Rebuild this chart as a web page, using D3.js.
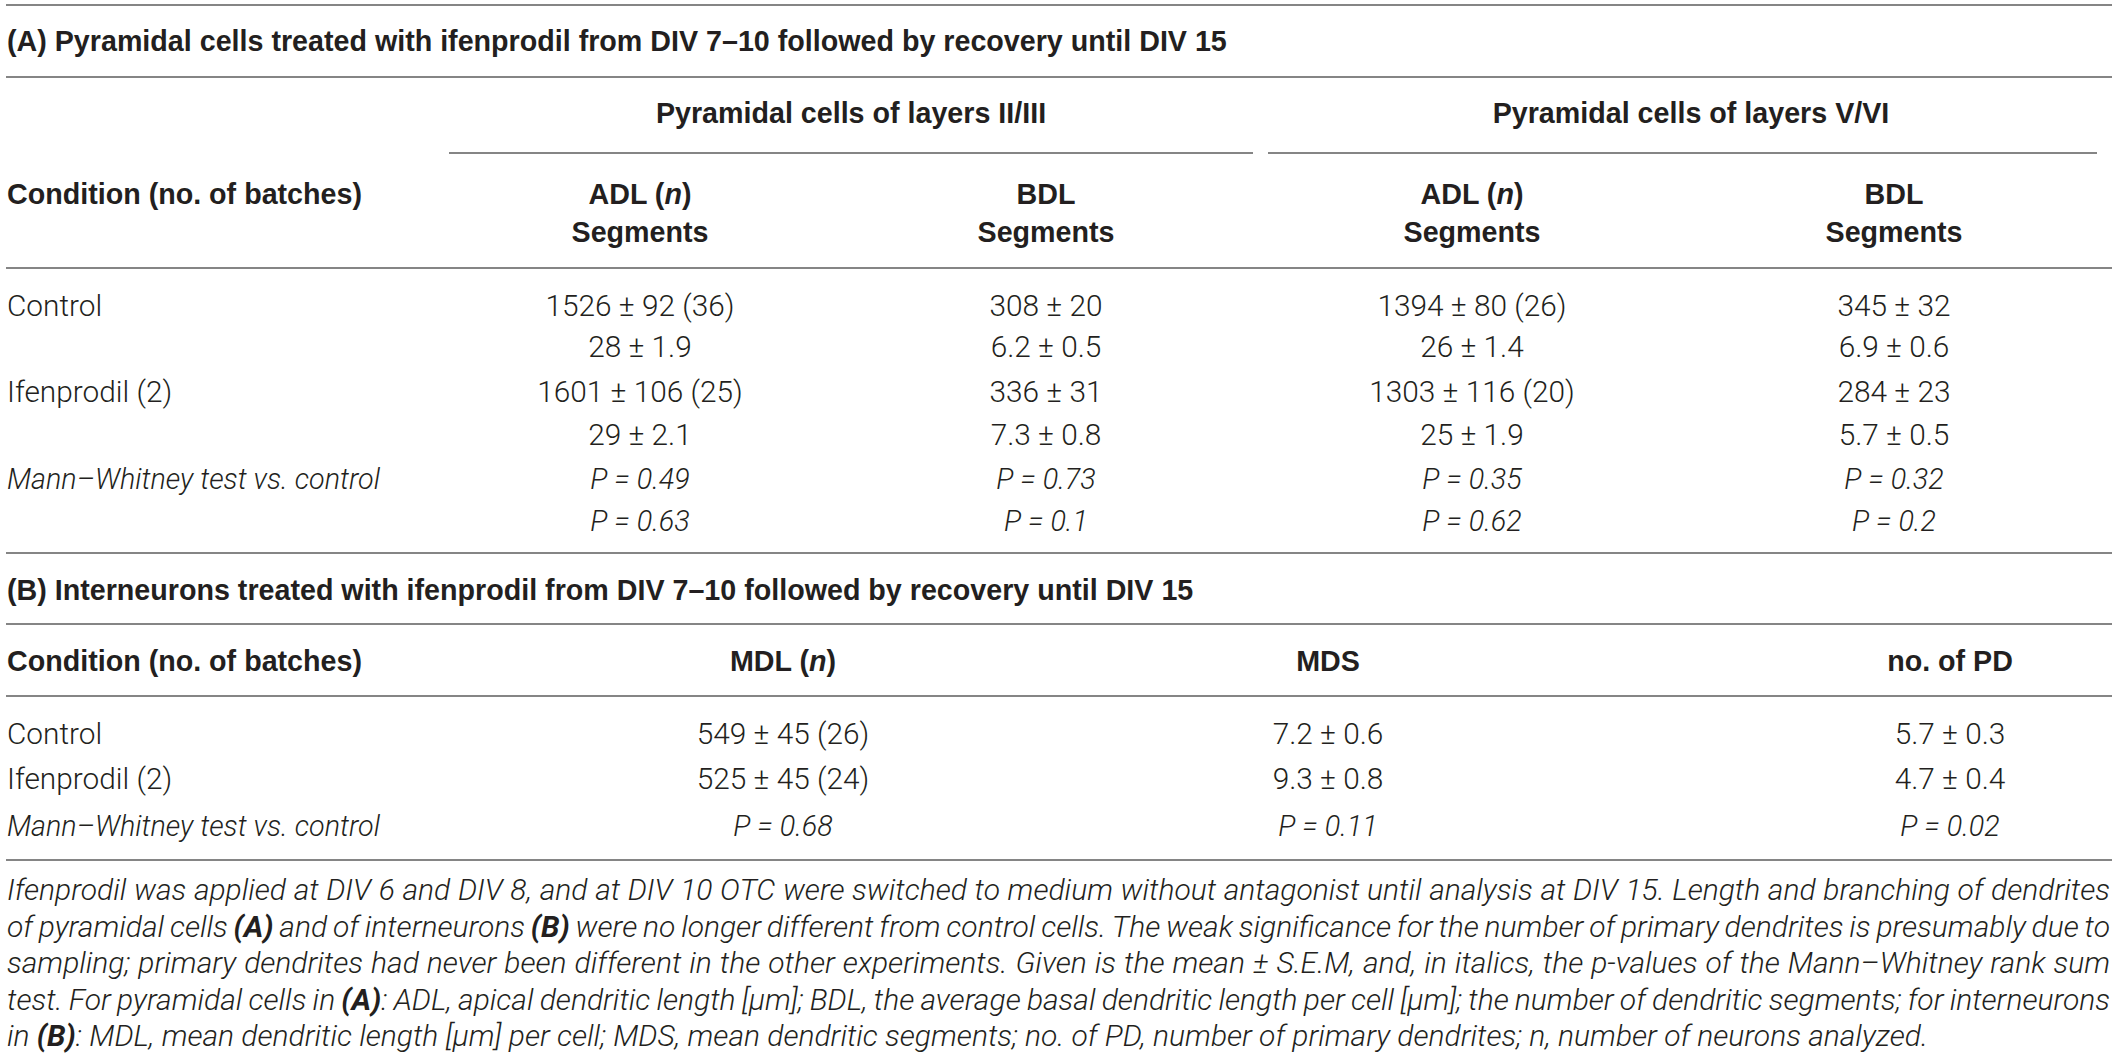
<!DOCTYPE html>
<html><head><meta charset="utf-8">
<script src="https://cdn.jsdelivr.net/npm/d3@7/dist/d3.min.js"></script>
<style>html,body{margin:0;padding:0;background:#fff;overflow:hidden}</style>
</head><body>
<svg id="chart" width="2118" height="1059"></svg>
<script>
// ---------------- DATA ----------------
const titleA = "(A) Pyramidal cells treated with ifenprodil from DIV 7–10 followed by recovery until DIV 15";
const titleB = "(B) Interneurons treated with ifenprodil from DIV 7–10 followed by recovery until DIV 15";
const conditionHeader = "Condition (no. of batches)";
const conditions = ["Control", "Ifenprodil (2)"];
const testLabel = "Mann–Whitney test vs. control";
const layerGroups = ["Pyramidal cells of layers II/III", "Pyramidal cells of layers V/VI"];
const columnsA = ["ADL", "BDL", "ADL", "BDL"];
const columnsAHasN = [true, false, true, false];
const segmentsLabel = "Segments";
// section A columns: II/III ADL, II/III BDL, V/VI ADL, V/VI BDL
const controlLength = [1526, 308, 1394, 345];
const controlLengthSem = [92, 20, 80, 32];
const controlN = [36, null, 26, null];
const controlSegments = [28, 6.2, 26, 6.9];
const controlSegmentsSem = [1.9, 0.5, 1.4, 0.6];
const ifenLength = [1601, 336, 1303, 284];
const ifenLengthSem = [106, 31, 116, 23];
const ifenN = [25, null, 20, null];
const ifenSegments = [29, 7.3, 25, 5.7];
const ifenSegmentsSem = [2.1, 0.8, 1.9, 0.5];
const pLength = [0.49, 0.73, 0.35, 0.32];
const pSegments = [0.63, 0.1, 0.62, 0.2];
// section B columns: MDL, MDS, no. of PD
const columnsB = ["MDL", "MDS", "no. of PD"];
const columnsBHasN = [true, false, false];
const controlB = [549, 7.2, 5.7];
const controlBSem = [45, 0.6, 0.3];
const controlBN = [26, null, null];
const ifenB = [525, 9.3, 4.7];
const ifenBSem = [45, 0.8, 0.4];
const ifenBN = [24, null, null];
const pB = [0.68, 0.11, 0.02];
// caption (b = bold)
const captionLines = [
  [{t:"Ifenprodil was applied at DIV 6 and DIV 8, and at DIV 10 OTC were switched to medium without antagonist until analysis at DIV 15. Length and branching of dendrites"}],
  [{t:"of pyramidal cells "},{t:"(A)",b:1},{t:" and of interneurons "},{t:"(B)",b:1},{t:" were no longer different from control cells. The weak significance for the number of primary dendrites is presumably due to"}],
  [{t:"sampling; primary dendrites had never been different in the other experiments. Given is the mean ± S.E.M, and, in italics, the p-values of the Mann–Whitney rank sum"}],
  [{t:"test. For pyramidal cells in "},{t:"(A)",b:1},{t:": ADL, apical dendritic length [µm]; BDL, the average basal dendritic length per cell [µm]; the number of dendritic segments; for interneurons"}],
  [{t:"in "},{t:"(B)",b:1},{t:": MDL, mean dendritic length [µm] per cell; MDS, mean dendritic segments; no. of PD, number of primary dendrites; n, number of neurons analyzed."}]
];

// ---------------- DRAW ----------------
const svg = d3.select("#chart");
const INK = "#231f20";
const LINE = "#858585";
const BOLD = "'Liberation Sans', Arial, Helvetica, sans-serif";
const LIGHT = "Roboto, 'Open Sans', sans-serif";

function measure(text, family, weight, style, size) {
  const t = svg.append("text").attr("font-family", family).attr("font-weight", weight)
    .attr("font-style", style).attr("font-size", size).text(text);
  const w = t.node().getComputedTextLength(); t.remove(); return w;
}
function fit(text, family, weight, style, target) {
  return 28 * target / measure(text, family, weight, style, 28);
}
const fsBold = (fit(segmentsLabel, BOLD, 700, "normal", 137) + fit(conditionHeader, BOLD, 700, "normal", 353) + fit(layerGroups[1], BOLD, 700, "normal", 399)) / 3;
const fsBody = fit("1394 ± 80 (26)", LIGHT, 300, "normal", 189);
const fsItal = fit(testLabel, LIGHT, 300, "italic", 373);
const fsCap = fit(captionLines[4].map(s => s.t).join(""), LIGHT, 300, "italic", 1919);

const LEFT = 7, RIGHT = 2110;
const hline = (y, x1 = 6, x2 = 2112) => svg.append("line").attr("x1", x1).attr("x2", x2)
  .attr("y1", y).attr("y2", y).attr("stroke", LINE).attr("stroke-width", 2);

function txt(x, yc, s, o = {}) {
  const fs = o.size || fsBody;
  return svg.append("text").attr("x", x).attr("y", yc + 0.355 * fs)
    .attr("font-family", o.family || LIGHT).attr("font-weight", o.weight || 300)
    .attr("font-style", o.style || "normal").attr("font-size", fs)
    .attr("text-anchor", o.anchor || "start").attr("fill", INK).text(s);
}
const pm = (m, s, n) => `${m} ± ${s}` + (n != null ? ` (${n})` : "");
const pv = p => `P = ${p}`;

// horizontal rules
[5, 77, 268, 553, 624, 696, 860].forEach(y => hline(y));

// ----- Section A -----
txt(LEFT, 41, titleA, {family: BOLD, weight: 700, size: fsBold});
const keysA = ["23ADL", "23BDL", "56ADL", "56BDL"];
const xA = d3.scaleOrdinal().domain(keysA).range([640, 1046, 1472, 1894]);
const xGroup = d3.scaleOrdinal().domain(layerGroups).range([[449, 1253], [1268, 2097]]);
layerGroups.forEach(g => {
  const [a, b] = xGroup(g);
  const gi = layerGroups.indexOf(g);
  const cx = (xA(keysA[gi * 2]) + xA(keysA[gi * 2 + 1])) / 2 + 8;
  txt(cx, 113, g, {family: BOLD, weight: 700, size: fsBold, anchor: "middle"});
  hline(153, a, b);
});
txt(LEFT, 194, conditionHeader, {family: BOLD, weight: 700, size: fsBold});
keysA.forEach((k, i) => {
  const t = txt(xA(k), 194, "", {family: BOLD, weight: 700, size: fsBold, anchor: "middle"});
  t.append("tspan").text(columnsA[i] + (columnsAHasN[i] ? " (" : ""));
  if (columnsAHasN[i]) { t.append("tspan").attr("font-style", "italic").text("n"); t.append("tspan").text(")"); }
  txt(xA(k), 232, segmentsLabel, {family: BOLD, weight: 700, size: fsBold, anchor: "middle"});
});
const yA = d3.scaleOrdinal().domain(["c1", "c2", "i1", "i2", "p1", "p2"]).range([305, 346, 391, 434, 479, 521]);
txt(LEFT, yA("c1"), conditions[0]);
txt(LEFT, yA("i1"), conditions[1]);
txt(LEFT, yA("p1"), testLabel, {style: "italic", size: fsItal});
keysA.forEach((k, i) => {
  txt(xA(k), yA("c1"), pm(controlLength[i], controlLengthSem[i], controlN[i]), {anchor: "middle"});
  txt(xA(k), yA("c2"), pm(controlSegments[i], controlSegmentsSem[i]), {anchor: "middle"});
  txt(xA(k), yA("i1"), pm(ifenLength[i], ifenLengthSem[i], ifenN[i]), {anchor: "middle"});
  txt(xA(k), yA("i2"), pm(ifenSegments[i], ifenSegmentsSem[i]), {anchor: "middle"});
  txt(xA(k), yA("p1"), pv(pLength[i]), {anchor: "middle", style: "italic", size: fsItal});
  txt(xA(k), yA("p2"), pv(pSegments[i]), {anchor: "middle", style: "italic", size: fsItal});
});

// ----- Section B -----
txt(LEFT, 590, titleB, {family: BOLD, weight: 700, size: fsBold});
const xB = d3.scaleOrdinal().domain(columnsB).range([783, 1328, 1950]);
txt(LEFT, 661, conditionHeader, {family: BOLD, weight: 700, size: fsBold});
columnsB.forEach((c, i) => {
  const t = txt(xB(c), 661, "", {family: BOLD, weight: 700, size: fsBold, anchor: "middle"});
  t.append("tspan").text(c + (columnsBHasN[i] ? " (" : ""));
  if (columnsBHasN[i]) { t.append("tspan").attr("font-style", "italic").text("n"); t.append("tspan").text(")"); }
});
const yB = d3.scaleOrdinal().domain(["c", "i", "p"]).range([733, 778, 826]);
txt(LEFT, yB("c"), conditions[0]);
txt(LEFT, yB("i"), conditions[1]);
txt(LEFT, yB("p"), testLabel, {style: "italic", size: fsItal});
columnsB.forEach((c, i) => {
  txt(xB(c), yB("c"), pm(controlB[i], controlBSem[i], controlBN[i]), {anchor: "middle"});
  txt(xB(c), yB("i"), pm(ifenB[i], ifenBSem[i], ifenBN[i]), {anchor: "middle"});
  txt(xB(c), yB("p"), pv(pB[i]), {anchor: "middle", style: "italic", size: fsItal});
});

// ----- Caption (justified) -----
const capY = d3.scaleLinear().domain([0, 4]).range([900, 1046]);
function toWords(segs) {
  const words = [[]];
  segs.forEach(s => s.t.split(" ").forEach((p, i) => {
    if (i > 0) words.push([]);
    if (p) words[words.length - 1].push({t: p, b: s.b});
  }));
  return words.filter(w => w.length);
}
captionLines.forEach((segs, li) => {
  const words = toWords(segs);
  const els = words.map(w => {
    const t = svg.append("text").attr("y", capY(li)).attr("font-family", LIGHT)
      .attr("font-style", "italic").attr("font-weight", 300).attr("font-size", fsCap).attr("fill", INK);
    w.forEach(s => t.append("tspan").attr("font-weight", s.b ? 700 : 300).text(s.t));
    return t;
  });
  const widths = els.map(e => e.node().getComputedTextLength());
  const total = d3.sum(widths);
  const last = li === captionLines.length - 1;
  const spaceW = measure("a a", LIGHT, 300, "italic", fsCap) - measure("aa", LIGHT, 300, "italic", fsCap);
  const gap = last ? spaceW : (RIGHT - LEFT - total) / (els.length - 1);
  let x = LEFT;
  els.forEach((e, i) => { e.attr("x", x); x += widths[i] + gap; });
});
</script>
</body></html>
